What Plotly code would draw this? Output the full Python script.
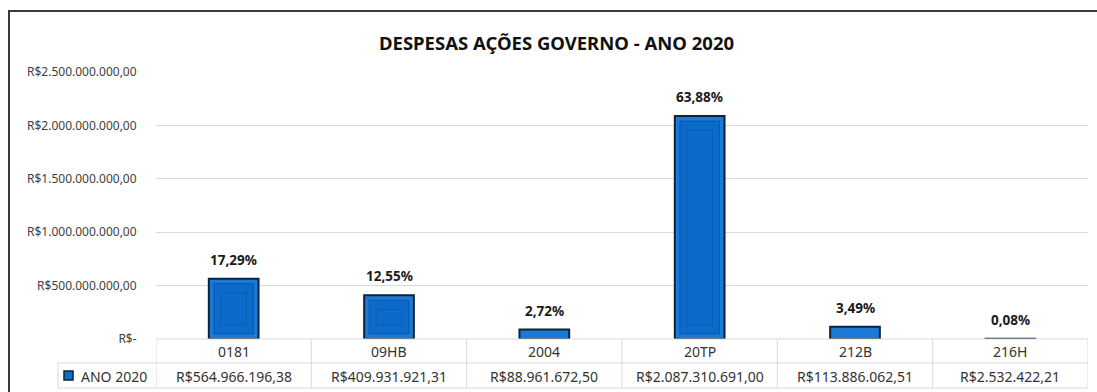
import plotly.graph_objects as go

categories = ["0181", "09HB", "2004", "20TP", "212B", "216H"]
values = [564966196.38, 409931921.31, 88961672.50, 2087310691.00, 113886062.51, 2532422.21]
percent_labels = ["17,29%", "12,55%", "2,72%", "63,88%", "3,49%", "0,08%"]
value_labels = ["R$564.966.196,38", "R$409.931.921,31", "R$88.961.672,50",
                "R$2.087.310.691,00", "R$113.886.062,51", "R$2.532.422,21"]
series_name = "ANO 2020"
title_text = "DESPESAS AÇÕES GOVERNO - ANO 2020"
y_tickvals = [0, 500e6, 1000e6, 1500e6, 2000e6, 2500e6]
y_ticktext = ["R$-", "R$500.000.000,00", "R$1.000.000.000,00", "R$1.500.000.000,00",
              "R$2.000.000.000,00", "R$2.500.000.000,00"]

W, H = 1097, 392
ML, MR, MT, MB = 156, 9, 72, 53
PW = W - ML - MR
PH = H - MT - MB
YMAX = 2.5e9
FONT = "Noto Sans"
GRID = "#d9d9d9"
BLUE = "#0d6dcc"
EDGE = "#0f2236"

def px(xp):
    return (xp - ML) / PW

def py(yp):
    return (H - MB - yp) / PH

# bevel insets in data units
inset = 5 * YMAX / PH
inner_base = [inset if v > 3 * inset else None for v in values]
inner_h = [v - 2 * inset if v > 3 * inset else None for v in values]
inset2 = 14 * YMAX / PH
inner2_base = [inset2 if v > 3 * inset2 else None for v in values]
inner2_h = [v - 2 * inset2 if v > 3 * inset2 else None for v in values]

fig = go.Figure()
fig.add_trace(go.Bar(x=categories, y=values, width=0.32, name=series_name,
                     marker=dict(color="#1b7ad8", line=dict(color=EDGE, width=2)),
                     hoverinfo="skip"))
fig.add_trace(go.Bar(x=categories, y=inner_h, base=inner_base, width=0.255,
                     marker=dict(color="#0c6ac8", line=dict(color="#0a58a8", width=1)),
                     hoverinfo="skip", showlegend=False))
fig.add_trace(go.Bar(x=categories, y=inner2_h, base=inner2_base, width=0.165,
                     marker=dict(color="#0c6bca", line=dict(color="#0a5eb2", width=1)),
                     hoverinfo="skip", showlegend=False))

ann = []
for i, (v, p) in enumerate(zip(values, percent_labels)):
    ann.append(dict(x=i, y=v, xref="x", yref="y", text="<b>%s</b>" % p, showarrow=False,
                    yanchor="bottom", yshift=8, font=dict(family=FONT, size=13.5, color="#1a1a1a")))
for i, (c, vl) in enumerate(zip(categories, value_labels)):
    ann.append(dict(x=i, y=py(351.5), xref="x", yref="paper", text=c, showarrow=False,
                    yanchor="middle", font=dict(family=FONT, size=14, color="#333333")))
    ann.append(dict(x=i, y=py(376), xref="x", yref="paper", text=vl, showarrow=False,
                    yanchor="middle", font=dict(family=FONT, size=14, color="#333333")))
ann.append(dict(x=px(79), y=py(376), xref="paper", yref="paper", text=series_name, showarrow=False,
                xanchor="left", yanchor="middle", font=dict(family=FONT, size=14, color="#333333")))
ann.append(dict(x=px(556), y=py(43), xref="paper", yref="paper", text="<b>%s</b>" % title_text,
                showarrow=False, xanchor="center", yanchor="middle",
                font=dict(family=FONT, size=18.5, color="#111111")))

shapes = []
shapes.append(dict(type="line", xref="paper", yref="paper", x0=0, x1=1, y0=py(339), y1=py(339),
                   line=dict(color=GRID, width=1)))
for yy in (363, 388):
    shapes.append(dict(type="line", xref="paper", yref="paper", x0=px(58), x1=1, y0=py(yy), y1=py(yy),
                       line=dict(color=GRID, width=1)))
n = len(categories)
for i in range(n + 1):
    shapes.append(dict(type="line", xref="x", yref="paper", x0=i - 0.5, x1=i - 0.5,
                       y0=py(339), y1=py(388), line=dict(color=GRID, width=1)))
shapes.append(dict(type="line", xref="paper", yref="paper", x0=px(58), x1=px(58),
                   y0=py(363), y1=py(388), line=dict(color=GRID, width=1)))
shapes.append(dict(type="rect", xref="paper", yref="paper", x0=px(64), x1=px(73), y0=py(380), y1=py(371),
                   fillcolor=BLUE, line=dict(color=EDGE, width=1.5)))
shapes.append(dict(type="rect", xref="paper", yref="paper", x0=px(9), x1=px(W + 10), y0=py(11), y1=py(H + 10),
                   line=dict(color="#3a3a3a", width=2), fillcolor="rgba(0,0,0,0)", layer="above"))

fig.update_layout(
    width=W, height=H,
    margin=dict(l=ML, r=MR, t=MT, b=MB, pad=0),
    paper_bgcolor="white", plot_bgcolor="white",
    barmode="overlay", showlegend=False,
    annotations=ann, shapes=shapes,
    xaxis=dict(type="category", range=[-0.5, n - 0.5], showticklabels=False, showgrid=False,
               zeroline=False, showline=False, fixedrange=True),
    yaxis=dict(range=[0, YMAX], tickvals=y_tickvals, ticktext=y_ticktext, showgrid=True,
               gridcolor=GRID, gridwidth=1, zeroline=False, showline=False,
               ticks="outside", ticklen=16, tickcolor="rgba(0,0,0,0)",
               tickfont=dict(family=FONT, size=12, color="#404040"), fixedrange=True),
)
fig.write_html("out.html")
